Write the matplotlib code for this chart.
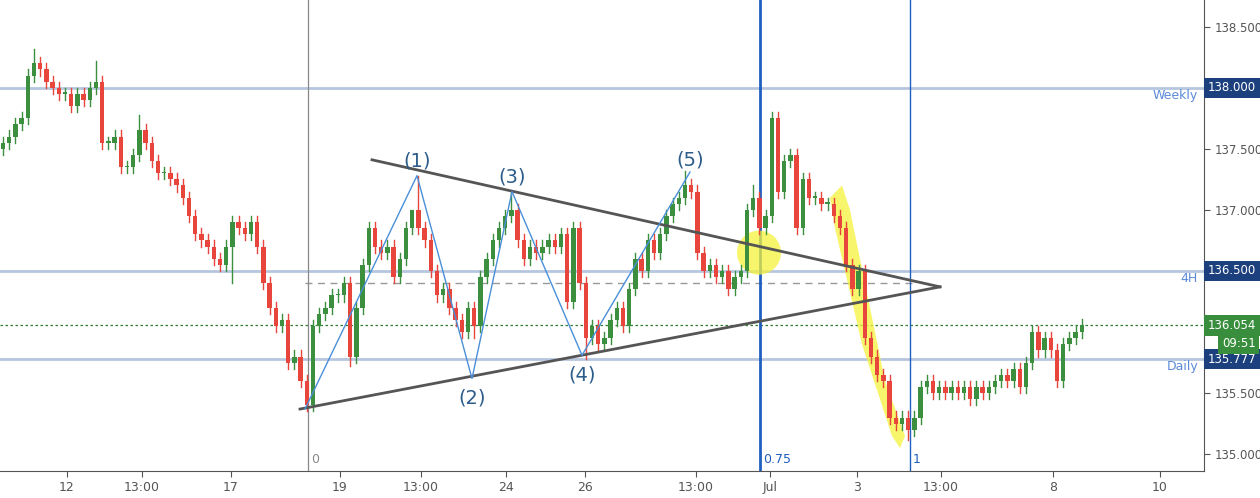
import matplotlib
matplotlib.use("Agg")
import matplotlib.pyplot as plt
from matplotlib.patches import Ellipse, Polygon

closes = [137.55,137.6,137.7,137.75,138.1,138.2,138.15,138.05,138.0,137.95,
          137.95,137.85,137.95,137.9,138.0,138.05,137.55,137.55,137.6,137.35,
          137.35,137.45,137.65,137.55,137.4,137.3,137.3,137.25,137.2,137.1,
          136.95,136.8,136.75,136.7,136.6,136.55,136.7,136.9,136.85,136.8,
          136.9,136.7,136.4,136.2,136.05,136.1,135.75,135.8,135.6,135.4,
          136.05,136.15,136.2,136.3,136.3,136.4,135.8,136.2,136.55,136.85,
          136.7,136.65,136.7,136.45,136.6,136.85,137.0,136.85,136.75,136.5,
          136.3,136.35,136.2,136.1,136.0,136.2,136.05,136.45,136.6,136.75,
          136.85,136.95,137.0,136.75,136.6,136.7,136.65,136.7,136.75,136.7,
          136.8,136.25,136.85,136.4,135.95,136.05,135.9,135.95,136.1,136.2,
          136.05,136.35,136.6,136.5,136.75,136.65,136.8,136.95,137.05,137.1,
          137.2,137.15,136.65,136.5,136.55,136.45,136.5,136.35,136.45,136.5,
          137.0,137.1,136.85,136.95,137.75,137.15,137.4,137.45,136.85,137.25,
          137.1,137.1,137.05,137.05,136.95,136.85,136.55,136.35,136.5,135.95,
          135.8,135.65,135.6,135.3,135.25,135.3,135.2,135.3,135.55,135.6,
          135.5,135.55,135.5,135.55,135.5,135.55,135.45,135.55,135.5,135.55,
          135.6,135.65,135.6,135.7,135.55,135.75,136.0,135.85,135.95,135.85,
          135.6,135.9,135.95,136.0,136.054]
first_open = 137.5
wick = 0.05
extra_high = {5: 138.32, 15: 138.22, 22: 137.78, 66: 137.0, 67: 137.28, 82: 137.15,
              110: 137.32, 124: 137.8, 121: 137.2}
extra_low = {37: 136.4, 49: 135.35, 56: 135.72, 76: 135.95, 94: 135.78, 146: 135.12}

levels = [138.0, 136.5, 135.777]
level_names = ["Weekly", "4H", "Daily"]
last_price = 136.054
mid_dash = 136.4
wave_x = [305, 417, 472, 512, 582, 690]
wave_p = [135.37, 137.28, 135.62, 137.15, 135.81, 137.31]
wave_labels = ["(1)", "(2)", "(3)", "(4)", "(5)"]
tri_upper = ([372, 940], [137.41, 136.37])
tri_lower = ([300, 940], [135.37, 136.37])
tick_pos = [67, 142, 231, 340, 421, 506, 585, 696, 770, 857, 941, 1053, 1160]
tick_lab = ["12", "13:00", "17", "19", "13:00", "24", "26", "13:00", "Jul", "3", "13:00", "8", "10"]
fib_x = [308, 760, 910]
fib_lab = ["0", "0.75", "1"]

fig = plt.figure(figsize=(12.6, 4.98), dpi=100)
ax = fig.add_axes([0, 27/498, 1204/1260, 471/498])
ax.set_xlim(0, 1204)
ax.set_ylim(134.863, 138.718)

GREEN = "#3b8f3e"; RED = "#e8463c"; LVL = "#b7c6df"
for lv in levels:
    ax.axhline(lv, color=LVL, lw=2, zorder=1)
ax.axhline(last_price, color="#2e7d32", lw=0.9, ls=(0, (2, 2)), zorder=1)
ax.plot([305, 915], [mid_dash, mid_dash], color="#999999", lw=1, ls=(0, (5, 4)), zorder=1)
ax.axvline(fib_x[0], color="#888888", lw=0.9, zorder=1)
ax.axvline(fib_x[1], color="#1f5fbf", lw=2, zorder=1)
ax.axvline(fib_x[2], color="#1f5fbf", lw=1, zorder=1)
for fx, fl in zip(fib_x, fib_lab):
    ax.text(fx + 3, 134.9, fl, color="#888888" if fl == "0" else "#1f5fbf", fontsize=9, va="bottom")

# highlights
ax.add_patch(Ellipse((759, 136.65), 44, 0.36, color="#f5f23a", alpha=0.75, lw=0, zorder=2))
ax.add_patch(Polygon([(830, 137.1), (842, 137.2), (850, 137.0), (885, 135.6), (905, 135.15),
                      (900, 135.05), (892, 135.15), (862, 135.9), (835, 136.85)],
                     closed=True, color="#f5f23a", alpha=0.75, lw=0, zorder=2))

prev = first_open
for i, c in enumerate(closes):
    x = 3 + 6.2 * i
    o = prev
    hi = extra_high.get(i, max(o, c) + wick)
    lo = extra_low.get(i, min(o, c) - wick)
    col = GREEN if c >= o else RED
    ax.plot([x, x], [lo, hi], color=col, lw=1, zorder=3)
    ax.bar(x, max(abs(c - o), 0.012), bottom=min(o, c), width=4.5, color=col, lw=0, zorder=4)
    prev = c

ax.plot(*tri_upper, color="#555555", lw=2, zorder=5)
ax.plot(*tri_lower, color="#555555", lw=2, zorder=5)
ax.plot(wave_x, wave_p, color="#4a8fd8", lw=1, zorder=5)
offs = [0.12, -0.16, 0.12, -0.16, 0.1]
for x, p, lab, o in zip(wave_x[1:], wave_p[1:], wave_labels, offs):
    ax.text(x, p + o, lab, color="#2b5c8a", fontsize=14, ha="center", va="center", zorder=6)

for lv, nm in zip(levels, level_names):
    ax.text(1198, lv - 0.06, nm, color="#5b8ad8", fontsize=9, ha="right", va="center")

ax.set_xticks(tick_pos)
ax.set_xticklabels(tick_lab, color="#444444", fontsize=9)
ax.yaxis.tick_right()
yt = [135.0, 135.5, 137.0, 137.5, 138.5]
ax.set_yticks(yt)
ax.set_yticklabels([f"{v:.3f}" for v in yt], color="#444444", fontsize=8.5)
for s in ["top", "left"]:
    ax.spines[s].set_visible(False)
ax.spines["right"].set_color("#555555")
ax.spines["bottom"].set_color("#555555")
ax.tick_params(colors="#555555", length=4)

bbox = dict(boxstyle="square,pad=0.3", lw=0)
for lv in levels:
    ax.text(1208, lv, f"{lv:.3f}", color="white", fontsize=8.5, va="center", ha="left",
            bbox=dict(bbox, fc="#1c3f7d"), clip_on=False, zorder=10)
ax.text(1208, last_price, f"{last_price:.3f}", color="white", fontsize=8.5, va="center", ha="left",
        bbox=dict(bbox, fc="#388e3c"), clip_on=False, zorder=10)
ax.text(1222, last_price - 0.15, "09:51", color="white", fontsize=8.5, va="center", ha="left",
        bbox=dict(bbox, fc="#388e3c"), clip_on=False, zorder=10)

fig.savefig("out.png", dpi=100)
